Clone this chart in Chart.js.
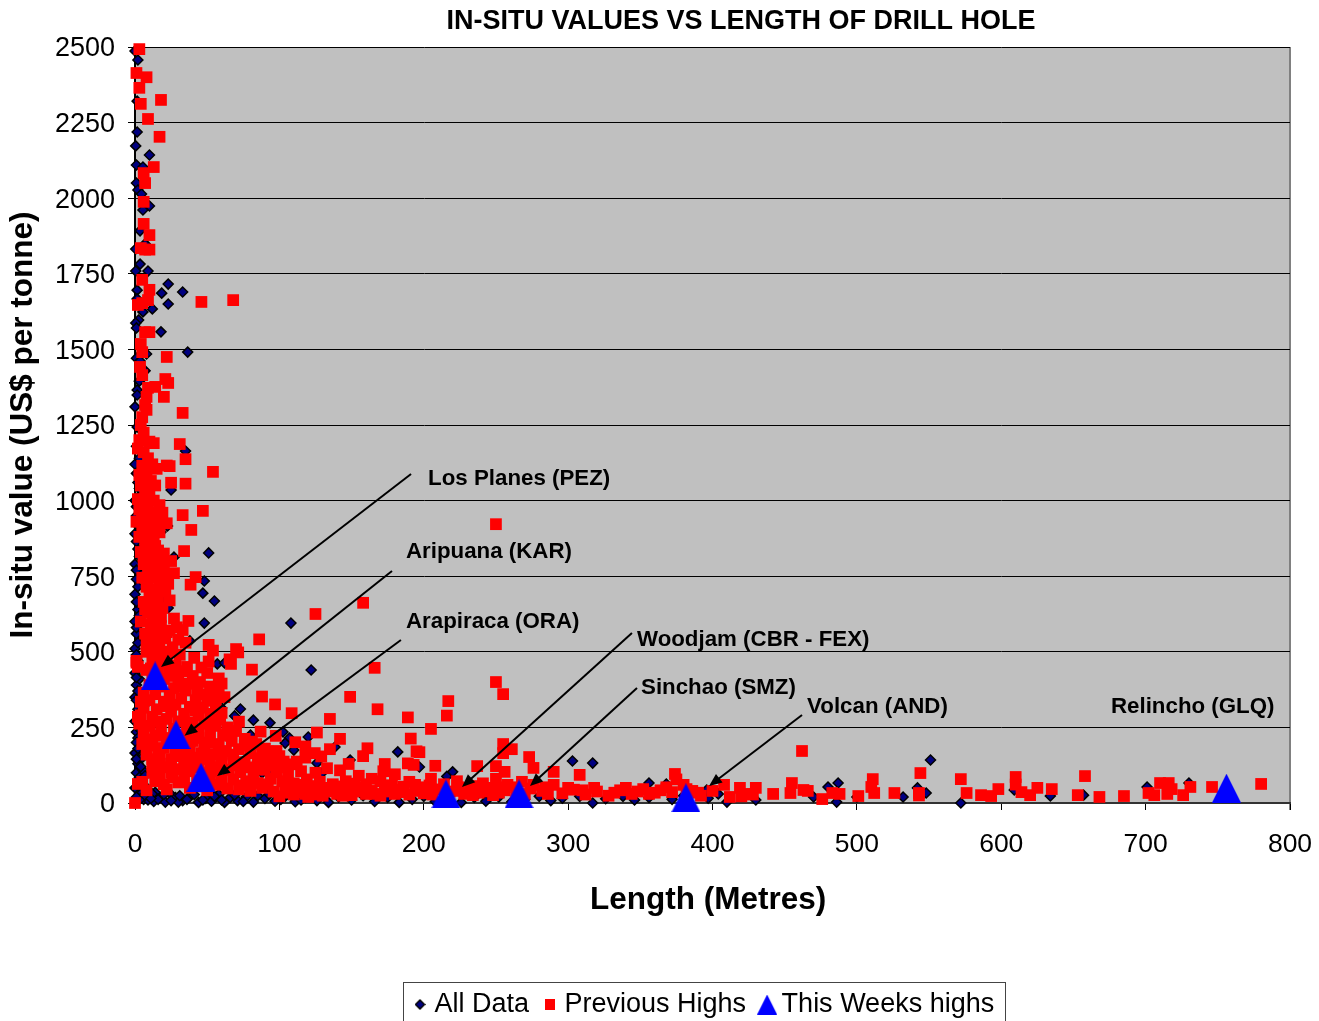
<!DOCTYPE html>
<html>
<head>
<meta charset="utf-8">
<title>In-situ values vs length of drill hole</title>
<script src="https://cdn.jsdelivr.net/npm/chart.js@4/dist/chart.umd.min.js"></script>
<style>
  html, body { margin: 0; padding: 0; background: #fff; overflow: hidden; }
  canvas { display: block; }
</style>
</head>
<body>
<canvas id="chart" width="1319" height="1021"></canvas>
<script>
// [length, in-situ value]
const allData = [
  [2,2457],[0,2487],[1.5,2321],[1.5,2219],[0.5,2173],[10,2143],[1,2110],[5.5,2103],[1,2050],[2,2027],[4.5,2014],[10,1974],
  [5.5,1961],[3.5,1892],[0.5,1832],[7,1849],[3.5,1782],[0.5,1759],[9,1759],[23,1716],[33,1690],[1.5,1696],[18.5,1686],[23,1650],
  [12,1634],[5.5,1624],[1.5,1667],[18,1558],[2.5,1597],[0.5,1587],[1,1571],[36.5,1491],[8,1485],[1,1471],[3.5,1462],[7,1429],
  [3,1395],[1.5,1366],[1.5,1349],[0,1310],[1.5,1243],[3.5,1257],[35,1164],[25,1035],[22.5,916],[18,896],[27,813],[51,827],
  [48,734],[47,694],[55,668],[20,681],[23,645],[48,595],[108,595],[38,536],[122,440],[57,460],[62,463],[60,314],[73,311],[69,288],
  [82,274],[93.5,265],[80,225],[102.5,235],[107,215],[104,198],[120,218],[110,175],[138.5,185],[182,169],[149,142],[126,132],
  [99,145],[93.5,109],[129.5,99],[197,119],[88,99],[220,103],[216,88],[303,139],[317,132],[356,66],[368,63],[397,16],[396,43],
  [404,30],[410,3],[430,10],[317,0],[470,20],[480,53],[487,66],[486,3],[551,142],[532,20],[542,50],[548,33],[572,0],[500,20],
  [609,43],[634,23],[657,26],[701,53],[730,66],
  [1,1180],[0,1120],[2,1060],[0,1000],[1,950],[0,890],[2,840],[0,790],[1,740],[0,690],[2,640],[0,600],[1,560],[0,510],[2,470],
  [0,430],[1,390],[0,350],[2,310],[0,270],[1,235],[3,200],[0,165],[2,130],[1,100],[4,75],[0,50],[3,30],[6,12],[2,8],[10,25],
  [13,5],[17,20],[21,3],[28,18],[33,8],[38,22],[44,2],[49,15],[53,6],[62,2],[66,18],[71,8],[77,20],[82,3],[90,15],[97,6],
  [104,22],[111,4],[118,18],[126,8],[134,2],[141,20],[150,10],[158,24],[166,5],[175,18],[183,2],[192,12],[200,22],[208,5],
  [217,14],[226,2],[235,18],[243,6],[252,20],[261,4],[270,12],[280,22],[288,8],[296,16],[308,22],[326,14],[338,22],[346,10],
  [356,18],[372,12],[380,24],[6,60],[5,110],[7,170],[4,240],[6,320],[8,45],[14,35],[24,32],[30,3],[58,28],
  [3,1140],[4,1020],[3,910],[4,760],[3,660],[4,540],[3,410],[4,330],[3,280],[2,215],[5,150],[3,85],[7,90],[5,35],[9,10],[12,30],
  [16,12],[20,28],[25,8],[31,24],[36,12],[41,28],[47,10],[55,22],[60,10],[69,26],[75,5],[85,24],[93,28],[101,12],[108,26],[115,10],
  // left edge column
  [1,1090],[3,1040],[1,980],[2,920],[1,865],[3,815],[1,770],[2,715],[1,665],[3,620],[1,580],[2,530],[1,490],[3,450],[1,415],[2,370],
  [1,340],[2,295],[3,255],[1,200],[2,180],[4,120],[1,145],[2,65],[4,15],[1,20],[7,25],[11,15]
];

const previousHighs = [
  [3,2493],[1,2414],[8,2400],[3,2365],[4,2312],[18,2325],[9,2262],[17,2203],[13,2103],[6,2083],[7,2050],[6,1988],[10,1878],[10,1830],
  [6,1915],[4,1835],[7,1830],[5,1730],[10,1697],[9,1663],[2,1647],[5,1653],[46,1657],[68,1663],[7,1557],[10,1557],[4,1518],[5,1491],
  [22,1475],[3.5,1442],[5,1415],[21,1402],[23,1389],[14,1376],[9,1373],[20,1343],[8,1343],[7,1316],[33,1290],[5,1276],
  [4,1250],[8,1300],[6,1225],[3,1200],[10,1195],[13,1190],[2,1172],[6,1160],[9,1140],[12,1120],[5,1115],[15,1105],[3,1085],[8,1080],
  [11,1065],[14,1050],[4,1050],[7,1030],[10,1020],[2,1005],[6,1000],[13,1000],[17,985],[3,970],[9,970],[12,960],[19,960],[1,930],
  [5,935],[8,930],[15,930],[22,925],[5,905],[11,900],[17,895],[3,880],[8,870],[13,870],[7,845],[10,830],[16,835],[20,825],[4,830],
  [13,805],[18,800],[25,800],[6,790],[9,770],[14,770],[20,765],[27,760],[12,745],[5,745],[17,735],[23,725],[8,715],[14,705],[21,700],
  [10,685],[16,675],[24,670],[6,665],[12,650],[19,645],[9,630],[15,620],[27,610],[4,600],[11,590],[18,585],[24,570],[7,560],[14,555],
  [21,545],[30,540],[35,530],[10,530],[17,520],[26,515],[8,500],[14,495],[22,490],[31,490],[41,480],[1,470],[2,450],[12,470],[19,465],
  [28,455],[36,450],[46,448],
  [54,1095],[31,1187],[35,1137],[24,1114],[22,1116],[25,1059],[35,1056],[47,966],[33,952],[39,903],[34,833],[42,747],[38.5,722],
  [37,602],[29,581],[33,572],[51,523],[54,504],[70,509],[71.5,498],[86,541],[65.5,475],[66.5,460],[51,468],[81,441],[125,625],[158,662],
  [166,447],[88,352],[97,326],[149,351],[108.5,297],[168,310],[135,278],[189,283],[72,269],[59,276],[126,233],[87,236],[142,212],
  [191,213],[161,181],[195,171],[97.5,222],[81,203],[111,201],[118,187],[135,178],[124.5,165],[129,154],[158,155],[112,137],[85,148],
  [92,170],[103,137],[148,129],[173,129],[189,131],[193,126],
  [250,922],[250,400],[255,360],[217,337],[216,289],[205,245],[197,168],[255,195],[261,178],[255,165],[273,152],[208,123],[237,122],
  [250,122],[276,116],[256,103],[290,103],[308,93],[462,172],[374,96],
  [8,440],[16,432],[24,440],[33,436],[40,420],[50,430],[58,412],[12,415],[20,410],[30,405],[37,395],[45,400],[52,385],[60,395],
  [10,390],[18,385],[27,380],[35,372],[43,365],[55,360],[6,365],[14,360],[24,355],[32,345],[42,340],[50,338],[62,350],[10,340],
  [20,335],[28,325],[38,318],[47,315],[56,322],[6,315],[15,310],[25,302],[34,295],[44,290],[52,295],[60,298],[4,290],[12,285],
  [22,278],[30,270],[40,265],[48,262],[56,255],[64,250],[3,262],[10,255],[18,250],[27,245],[36,240],[44,235],[52,230],[61,225],
  [70,238],[6,230],[14,222],[22,215],[32,210],[40,205],[50,200],[58,195],[67,205],[76,212],[84,195],[5,195],[12,190],[20,182],
  [28,175],[38,170],[46,165],[54,162],[63,172],[72,178],[80,165],[90,180],[98,172],[8,160],[17,152],[25,145],[34,140],[42,135],
  [52,130],[60,140],[68,142],[76,135],[86,128],[94,140],[102,118],[110,128],[118,150],[12,125],[20,118],[30,112],[38,105],[48,100],
  [56,105],[65,110],[73,102],[82,100],[90,110],[98,102],[106,92],[115,105],[125,100],[133,115],[142,108],[17,90],[26,85],[34,78],
  [43,72],[52,70],[60,75],[68,78],[77,72],[85,66],[94,80],[102,72],[110,65],[119,78],[128,70],[137,62],[146,72],[155,90],[164,80],
  [172,105],[180,95],[20,62],[5,70],[8,42],[22,45],[38,50],[50,42],[64,48],[72,45],[80,40],[88,50],[96,38],[105,48],[113,36],
  [122,45],[130,38],[139,48],[147,36],[156,50],[164,40],[173,58],[182,44],[190,70],[198,52],[205,80],[214,62],[223,72],[232,48],
  [241,65],[250,80],[258,60],[268,70],[100,22],[110,28],[120,20],[130,24],[140,30],[150,26],[160,30],[170,24],[180,30],[190,28],
  [200,32],[210,45],[218,38],[228,30],[238,34],[248,26],[256,42],[264,36],[274,48],[282,40],[290,60],[296,32],[304,44],[312,28],
  [320,38],[328,24],[336,42],[344,30],[352,46],[360,34],[368,52],[375,78],[380,60],[386,40],[392,24],[400,40],[408,60],[419,50],
  [422,30],[430,50],[442,30],[455,66],[454,33],[463,43],[466,40],[476,13],[483,33],[488,30],[501,23],[412,20],[420,22],[428,28],
  [511,79],[510,53],[512,33],[526,33],[544,99],[543,33],[543,25],[572,79],[576,33],[586,26],[593,23],[598,46],[610,86],[610,61],
  [614,36],[620,26],[625,50],[635,46],[653,26],[658,89],[668,20],[685,23],[702,33],[706,26],[710,66],[716,66],[718,46],[715,30],
  [726,26],[731,53],[746,53],[780,63],[0,0],[2,63],[1,464],[2,285],
  // dense blob near the origin
  [8,1110],[6,1060],[9,1000],[5,960],[11,945],[8,890],[14,850],[6,815],[11,790],[16,755],[9,735],[20,730],[12,690],[7,640],[14,665],
  [18,615],[12,605],[22,565],[8,525],[16,490],[24,500],[11,445],[26,420],[42,395],[58,375],[16,400],[32,385],[48,360],[4,335],[22,320],
  [42,305],[16,270],[36,265],[54,275],[8,210],[28,225],[44,215],[66,222],[34,190],[16,170],[48,182],[60,165],[76,190],[88,160],[30,155],
  [40,150],[68,160],[12,145],[48,145],[58,118],[25,130],[36,122],[70,125],[84,115],[12,100],[44,118],[100,155],[25,100],[78,118],[96,125],
  [30,68],[45,55],[58,60],[14,72],[75,58],[92,62],[104,58],[116,60],[126,56],[134,50],[144,55],[152,64],[160,62],[170,72],[178,58],[186,54],
  [194,60],[204,58],[224,52],[236,56],[246,50],[254,52],[264,52],[276,60],[284,52],[300,50],[310,42],[318,50],[332,34],[340,50],[348,38],
  [356,30],[364,42],[372,36],[382,46],[390,34],[106,34],[118,30],[126,28],[136,38],[144,24],[154,38],[166,30],[176,38],[186,36],[196,40],
  [206,28],[224,40],[234,26],[244,38],[252,34],[270,30],[286,30]
];

const thisWeeksHighs = [[13.9,420],[28.4,226],[45.7,85],[215.4,30],[266,30],[381.6,17],[756,49]];

// text, label anchor, arrow tail, arrow tip (all in data units)
const annotationLabels = ['Los Planes (PEZ)','Aripuana (KAR)','Arapiraca (ORA)','Woodjam (CBR - FEX)','Sinchao (SMZ)','Volcan (AND)','Relincho (GLQ)'];
const annotationAnchors = [[203,1073],[187.7,832],[187.7,600],[347.7,541],[350.5,382],[465.5,319],[676,319]];
const annotationTails = [[191.2,1088],[178,767],[184.2,539],[344.2,562],[347.7,380],[462,291],null];
const annotationTips = [[18,450],[34.3,222],[56.8,89],[226.5,53],[273.6,56],[397.6,56],null];

const FONT = '"Liberation Sans", Arial, sans-serif';

function iconCanvas(w, h, draw) {
  const c = document.createElement('canvas');
  c.width = w; c.height = h;
  draw(c.getContext('2d'), w, h);
  return c;
}

function triangleIcon(w, h) {
  return iconCanvas(w, h, (g) => {
    g.fillStyle = '#0000FF';
    g.beginPath();
    g.moveTo(w / 2, 0);
    g.lineTo(w, h);
    g.lineTo(0, h);
    g.closePath();
    g.fill();
  });
}

const legendIcons = [
  iconCanvas(11, 11, (g) => {
    g.fillStyle = '#000080';
    g.strokeStyle = '#000';
    g.lineWidth = 1.5;
    g.beginPath();
    g.moveTo(5.5, 1); g.lineTo(10, 5.5); g.lineTo(5.5, 10); g.lineTo(1, 5.5);
    g.closePath();
    g.fill(); g.stroke();
  }),
  iconCanvas(10, 11, (g, w, h) => { g.fillStyle = '#FF0000'; g.fillRect(0, 0, w, h); }),
  triangleIcon(20, 20)
];

const toXY = (p) => ({ x: p[0], y: p[1] });

const frame = {
  id: 'frame',
  afterLayout(chart) {
    // title and legend are not centred on the page in the original
    const t = chart.titleBlock;
    const dt = 741 - (t.left + t.right) / 2;
    t.left += dt; t.right += dt;
    const l = chart.legend;
    const pad = l.options.labels.padding;
    const dl = 419 - (l.left + pad + l.right - l.lineWidths[0]) / 2;
    l.left += dl; l.right += dl;
    l.bottom += 971 - l.top; l.top = 971;
  },
  beforeDraw(chart) {
    const { ctx, chartArea: a } = chart;
    ctx.save();
    ctx.fillStyle = '#fff';
    ctx.fillRect(0, 0, chart.width, chart.height);
    ctx.fillStyle = '#C0C0C0';
    ctx.fillRect(a.left, a.top, a.right - a.left, a.bottom - a.top);
    ctx.strokeStyle = '#808080';
    ctx.lineWidth = 2;
    ctx.beginPath();
    ctx.moveTo(a.right, a.top);
    ctx.lineTo(a.right, a.bottom + 7);
    ctx.stroke();
    // legend frame, runs off the bottom of the page
    ctx.strokeStyle = '#444';
    ctx.lineWidth = 1;
    ctx.strokeRect(403.5, 982.5, 602, 60);
    ctx.restore();
  }
};

const annotations = {
  id: 'annotations',
  afterDatasetsDraw(chart) {
    const { ctx, scales: { x, y } } = chart;
    ctx.save();
    ctx.fillStyle = '#000';
    ctx.strokeStyle = '#000';
    annotationLabels.forEach((text, i) => {
      const tail = annotationTails[i];
      const tip = annotationTips[i];
      if (tail) {
        const x0 = x.getPixelForValue(tail[0]), y0 = y.getPixelForValue(tail[1]);
        const x1 = x.getPixelForValue(tip[0]), y1 = y.getPixelForValue(tip[1]);
        const ang = Math.atan2(y1 - y0, x1 - x0);
        ctx.lineWidth = 2;
        ctx.beginPath();
        ctx.moveTo(x0, y0);
        ctx.lineTo(x1 - 10 * Math.cos(ang), y1 - 10 * Math.sin(ang));
        ctx.stroke();
        ctx.beginPath();
        ctx.moveTo(x1, y1);
        ctx.lineTo(x1 - 14 * Math.cos(ang - 0.4), y1 - 14 * Math.sin(ang - 0.4));
        ctx.lineTo(x1 - 14 * Math.cos(ang + 0.4), y1 - 14 * Math.sin(ang + 0.4));
        ctx.closePath();
        ctx.fill();
      }
      ctx.font = 'bold 22.3px ' + FONT;
      ctx.textAlign = 'left';
      ctx.textBaseline = 'middle';
      ctx.fillText(text, x.getPixelForValue(annotationAnchors[i][0]), y.getPixelForValue(annotationAnchors[i][1]));
    });
    ctx.restore();
  }
};

new Chart(document.getElementById('chart').getContext('2d'), {
  type: 'scatter',
  data: {
    datasets: [
      {
        label: 'All Data',
        data: allData.map(toXY),
        order: 3,
        clip: false,
        pointStyle: 'rectRot',
        pointRadius: 5,
        pointHoverRadius: 5,
        backgroundColor: '#000080',
        borderColor: '#000',
        borderWidth: 1.5
      },
      {
        label: 'Previous Highs',
        data: previousHighs.map(toXY),
        order: 2,
        clip: false,
        pointStyle: 'rect',
        pointRadius: 8.3,
        pointHoverRadius: 8.3,
        backgroundColor: '#FF0000',
        borderColor: '#FF0000',
        borderWidth: 0
      },
      {
        label: 'This Weeks highs',
        data: thisWeeksHighs.map(toXY),
        order: 1,
        clip: false,
        pointStyle: triangleIcon(29, 29),
        pointRadius: 14,
        backgroundColor: '#0000FF',
        borderColor: '#0000FF'
      }
    ]
  },
  plugins: [frame, annotations],
  options: {
    responsive: false,
    animation: false,
    layout: { padding: { left: 0, right: 29, top: 0, bottom: 0 } },
    plugins: {
      tooltip: { enabled: false },
      title: {
        display: true,
        text: 'IN-SITU VALUES VS LENGTH OF DRILL HOLE',
        color: '#000',
        font: { family: FONT, size: 27, weight: 'bold', lineHeight: 1 },
        padding: { top: 8.5, bottom: 11.5 }
      },
      legend: {
        position: 'bottom',
        labels: {
          usePointStyle: true,
          boxWidth: 2,
          boxHeight: 2,
          padding: 20,
          color: '#000',
          font: { family: FONT, size: 27 },
          sort: (a, b) => a.datasetIndex - b.datasetIndex,
          generateLabels(chart) {
            const items = Chart.defaults.plugins.legend.labels.generateLabels(chart);
            items.forEach((item) => { item.pointStyle = legendIcons[item.datasetIndex]; });
            return items;
          }
        }
      }
    },
    scales: {
      x: {
        type: 'linear',
        min: 0,
        max: 800,
        afterFit(scale) {
          scale.height = 218 - scale.chart.legend.height;
          scale.paddingRight = 0;
        },
        border: { color: '#333', width: 2 },
        grid: { drawOnChartArea: false, drawTicks: true, tickLength: 7, color: '#000' },
        ticks: {
          stepSize: 100,
          maxRotation: 0,
          autoSkip: false,
          padding: 19,
          color: '#000',
          font: { family: FONT, size: 26.5 },
          callback: (v) => String(v)
        },
        title: {
          display: true,
          text: 'Length (Metres) ',
          color: '#000',
          font: { family: FONT, size: 31.5, weight: 'bold' },
          padding: { top: 0, bottom: 45 }
        }
      },
      y: {
        type: 'linear',
        min: 0,
        max: 2500,
        afterFit(scale) { scale.width = 135; },
        border: { color: '#000', width: 2 },
        grid: { color: '#000', lineWidth: 1, tickLength: 7 },
        ticks: {
          stepSize: 250,
          autoSkip: false,
          padding: 13,
          labelOffset: 2,
          color: '#000',
          font: { family: FONT, size: 27 },
          callback: (v) => String(v)
        },
        title: {
          display: true,
          text: 'In-situ value (US$ per tonne)',
          color: '#000',
          font: { family: FONT, size: 31.5, weight: 'bold' },
          padding: { top: 4, bottom: 0 }
        }
      }
    }
  }
});
</script>
</body>
</html>
